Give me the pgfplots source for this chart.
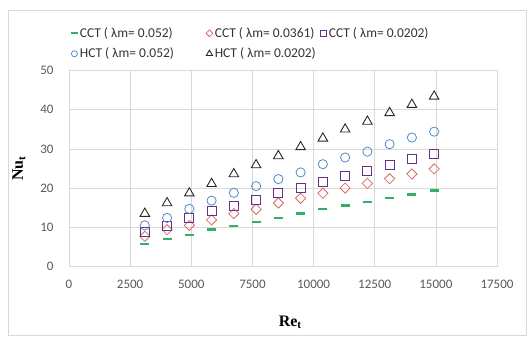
\documentclass[border=0pt]{standalone}
\usepackage{fontspec}
\setmainfont{Carlito}
\newfontfamily\timesf{Liberation Serif}
\usepackage{pgfplots}
\pgfplotsset{compat=1.18}
\definecolor{cgreen}{RGB}{50,175,105}
\definecolor{cred}{RGB}{222,105,100}
\definecolor{cpurple}{RGB}{100,50,135}
\definecolor{cblue}{RGB}{80,140,200}
\definecolor{cblack}{RGB}{40,40,40}
\definecolor{gridc}{RGB}{217,217,217}
\definecolor{tickc}{RGB}{89,89,89}
\pgfplotstableread{
x     g     r     p     b     t
3100  5.7   7.7   8.8   10.5  13.5
4010  7.0   9.4   10.4  12.4  16.2
4920  8.0   10.5  12.4  14.7  18.7
5830  9.4   11.9  14.1  16.8  21.1
6740  10.4  13.5  15.4  18.8  23.6
7650  11.4  14.6  17.0  20.5  25.9
8560  12.4  16.2  18.8  22.3  28.2
9470  13.5  17.4  20.1  24.0  30.5
10380 14.6  18.7  21.6  26.1  32.7
11290 15.6  20.0  23.1  27.8  35.0
12200 16.4  21.2  24.4  29.3  37.0
13110 17.4  22.4  26.0  31.2  39.2
14020 18.4  23.6  27.4  32.9  41.3
14930 19.4  24.9  28.7  34.4  43.4
}\datatable
\begin{document}
\begin{tikzpicture}[x=1pt,y=1pt]
\path (0,0) rectangle (527,337);
\draw[gridc] (8,2) rectangle (526.5,327);
\begin{axis}[
  at={(69pt,70.5pt)}, anchor=south west,
  width=428pt, height=196pt, scale only axis,
  xmin=0, xmax=17500, ymin=0, ymax=50,
  xtick={0,2500,...,17500}, ytick={0,10,...,50},
  grid=major, grid style={gridc, line width=0.7pt},
  axis line style={gridc, line width=0.7pt},
  major tick length=0pt,
  tick label style={font=\fontsize{13}{15}\selectfont, text=tickc},
  /pgf/number format/assume math mode=true,
  /pgf/number format/1000 sep={},
  scaled ticks=false,
  xticklabel style={yshift=-10pt},
  yticklabel style={xshift=-12pt},
  xlabel={\timesf\bfseries Re\textsubscript{t}},
  ylabel={\timesf\bfseries Nu\textsubscript{t}},
  label style={font=\fontsize{16}{18}\selectfont},
  xlabel style={at={(axis description cs:0.517,0)}, anchor=center, yshift=-56pt},
  ylabel style={at={(axis description cs:0,0.5)}, anchor=center, yshift=50pt},
  legend columns=3,
  legend style={at={(axis description cs:-0.003,1.24)}, anchor=north west, draw=none, fill=none,
    font=\fontsize{13.5}{15}\selectfont, text=black!80, row sep=5pt,
    /tikz/column 2/.style={column sep=30pt},
    /tikz/column 4/.style={column sep=3pt}},
  legend cell align=left,
]
\addplot[only marks, color=cgreen, mark=-, mark size=4.5pt, line width=2.4pt, legend image post style={mark size=3.5pt, line width=2.2pt}] table[x=x,y=g]{\datatable};
\addlegendentry{CCT ( λm= 0.052)}
\addplot[only marks, color=cred, mark=square, mark size=3.6pt, mark options={rotate=45}, line width=0.8pt, legend image post style={mark size=2.4pt}] table[x=x,y=r]{\datatable};
\addlegendentry{CCT ( λm= 0.0361)}
\addplot[only marks, color=cpurple, mark=square, mark size=4.5pt, line width=0.8pt, legend image post style={mark size=3pt}] table[x=x,y=p]{\datatable};
\addlegendentry{CCT ( λm= 0.0202)}
\addplot[only marks, color=cblue, mark=o, mark size=4.6pt, line width=0.8pt, legend image post style={mark size=3pt}] table[x=x,y=b]{\datatable};
\addlegendentry{HCT ( λm= 0.052)}
\addplot[only marks, color=cblack, mark=triangle, mark size=5.5pt, line width=0.9pt, legend image post style={mark size=3.6pt}] table[x=x,y=t]{\datatable};
\addlegendentry{HCT ( λm= 0.0202)}
\end{axis}
\end{tikzpicture}
\end{document}
